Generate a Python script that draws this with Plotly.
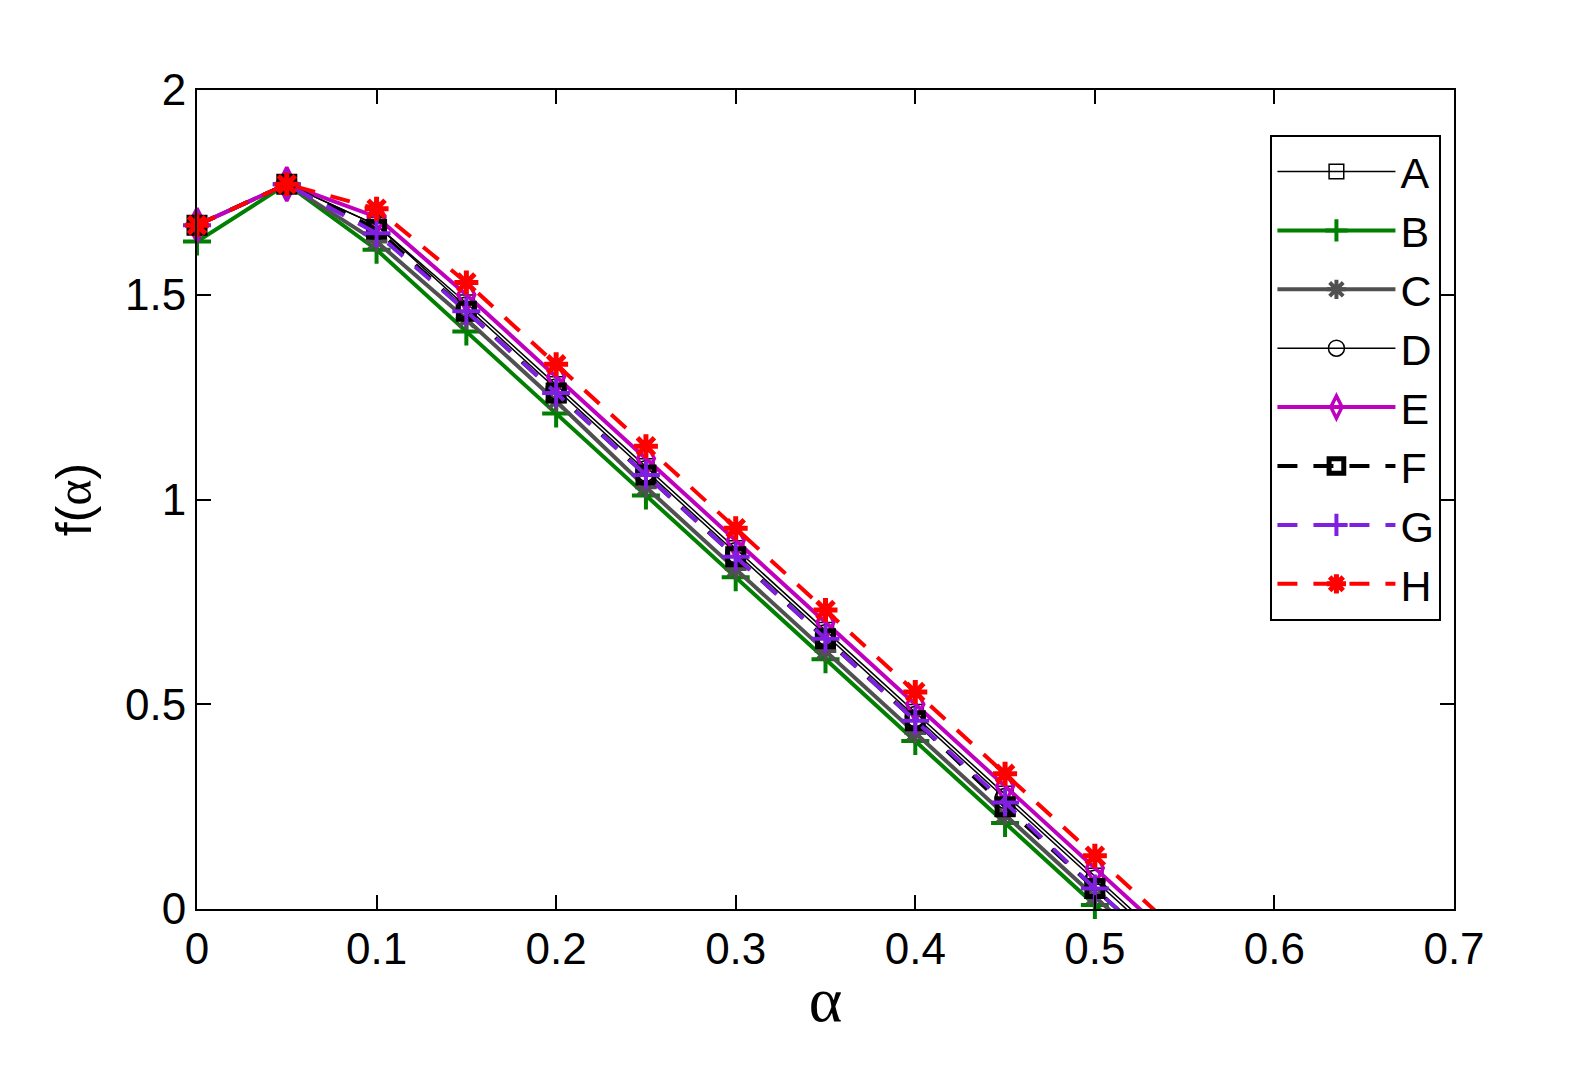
import plotly.graph_objects as go

x = [0, 0.05, 0.1, 0.15, 0.2, 0.25, 0.3, 0.35, 0.4, 0.45, 0.5, 0.55]
A = [1.67, 1.77, 1.67, 1.48, 1.28, 1.08, 0.88, 0.68, 0.48, 0.28, 0.08, -0.12]
B = [1.63, 1.77, 1.61, 1.41, 1.21, 1.01, 0.81, 0.61, 0.41, 0.21, 0.01, -0.19]
C = [1.67, 1.77, 1.63, 1.44, 1.24, 1.03, 0.83, 0.63, 0.43, 0.23, 0.03, -0.17]
D = [1.67, 1.77, 1.67, 1.47, 1.27, 1.07, 0.87, 0.67, 0.47, 0.27, 0.07, -0.13]
E = [1.67, 1.77, 1.69, 1.50, 1.30, 1.10, 0.90, 0.70, 0.50, 0.30, 0.10, -0.10]
F = [1.67, 1.77, 1.66, 1.46, 1.26, 1.06, 0.86, 0.66, 0.46, 0.25, 0.05, -0.15]
G = [1.67, 1.77, 1.65, 1.46, 1.26, 1.06, 0.86, 0.66, 0.46, 0.26, 0.05, -0.15]
H = [1.67, 1.77, 1.71, 1.53, 1.33, 1.13, 0.93, 0.73, 0.53, 0.33, 0.13, -0.07]

names = ["A", "B", "C", "D", "E", "F", "G", "H"]
series = [A, B, C, D, E, F, G, H]

styles = {
    "A": dict(color="#000000", width=1.5, dash="solid", symbol="square-open", size=16, mlw=1.5),
    "B": dict(color="#007F00", width=4, dash="solid", symbol="cross-thin-open", size=20, mlw=4),
    "C": dict(color="#505050", width=4, dash="solid", symbol="asterisk-open", size=18, mlw=4),
    "D": dict(color="#000000", width=1.5, dash="solid", symbol="circle-open", size=20, mlw=1.5),
    "E": dict(color="#BF00BF", width=4, dash="solid", symbol="diamond-tall-open", size=24, mlw=3.5),
    "F": dict(color="#000000", width=4, dash="20px,16px", symbol="square-open", size=16, mlw=5),
    "G": dict(color="#7F1FE0", width=4, dash="20px,16px", symbol="cross-thin-open", size=20, mlw=4),
    "H": dict(color="#FF0000", width=4, dash="20px,16px", symbol="asterisk-open", size=20, mlw=5),
}

fig = go.Figure()
for n, ys in zip(names, series):
    s = styles[n]
    sizes = [s["size"]] * (len(x) - 1) + [0]
    fig.add_trace(go.Scatter(
        x=x, y=ys, name=n, mode="lines+markers", cliponaxis=False,
        line=dict(color=s["color"], width=s["width"], dash=s["dash"]),
        marker=dict(symbol=s["symbol"], size=sizes, color=s["color"], opacity=1,
                    line=dict(color=s["color"], width=s["mlw"])),
    ))

axis_common = dict(
    showline=True, linecolor="black", linewidth=2, mirror="allticks",
    ticks="inside", ticklen=14, tickwidth=2, tickcolor="black",
    showgrid=False, zeroline=False,
    tickfont=dict(family="Liberation Sans, Arial", size=44, color="black"),
)

fig.update_xaxes(
    range=[0, 0.7], tickvals=[0, 0.1, 0.2, 0.3, 0.4, 0.5, 0.6, 0.7],
    ticktext=["0", "0.1", "0.2", "0.3", "0.4", "0.5", "0.6", "0.7"],
    title=dict(text="α", font=dict(family="Liberation Serif, Times New Roman", size=64, color="black"), standoff=4),
    **axis_common,
)
fig.update_yaxes(
    range=[0, 2], tickvals=[0, 0.5, 1, 1.5, 2],
    ticktext=["0", "0.5", "1", "1.5", "2"],
    title=dict(text="f(<span style='font-family:Liberation Serif'>α</span>)",
               font=dict(family="Liberation Sans, Arial", size=50, color="black"), standoff=18),
    **axis_common,
)

fig.update_layout(
    width=1582, height=1086,
    margin=dict(l=197, r=128, t=90, b=177, autoexpand=False),
    paper_bgcolor="white", plot_bgcolor="white",
    showlegend=True,
    legend=dict(
        x=0.99, xanchor="right", y=0.945, yanchor="top",
        bordercolor="black", borderwidth=2, bgcolor="white",
        font=dict(family="Liberation Sans, Arial", size=43, color="black"),
        itemwidth=118, tracegroupgap=0,
    ),
)

fig.write_html("out.html")
